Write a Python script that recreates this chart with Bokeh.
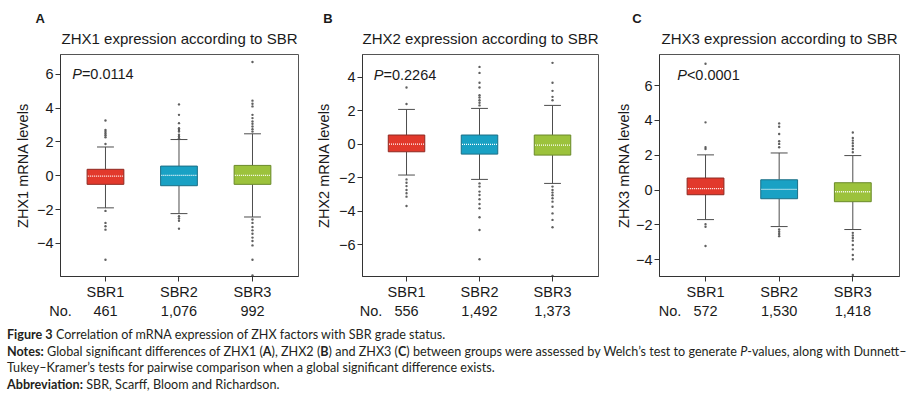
from bokeh.plotting import figure
from bokeh.models import Range1d, FixedTicker, Label, Div, Title, LinearAxis
from bokeh.layouts import column, row
from bokeh.embed import file_html
from bokeh.resources import INLINE

# ---------------- data ----------------
categories = ["SBR1", "SBR2", "SBR3"]
genes = ["ZHX1", "ZHX2", "ZHX3"]
panel_letters = ["A", "B", "C"]
p_values = ["=0.0114", "=0.2264", "<0.0001"]

zhx1_q1 = [-0.51, -0.59, -0.51]
zhx1_med = [-0.02, 0.02, 0.02]
zhx1_q3 = [0.38, 0.57, 0.61]
zhx1_lo = [-1.90, -2.24, -2.44]
zhx1_hi = [1.70, 2.14, 2.48]
zhx1_out = [
    [3.27, 2.71, 2.6, 2.5, 2.4, 2.28, 1.88, -2.08, -2.79, -2.99, -3.19, -4.97],
    [4.22, 3.6, 3.11, 2.81, 2.71, 2.61, 2.42, 2.32, 2.22, -2.4, -2.53, -2.67, -3.13],
    [6.73, 4.44, 4.26, 4.1, 3.6, 3.41, 3.21, 3.07, 2.91, 2.75, 2.61,
     -2.59, -2.79, -3.03, -3.23, -3.43, -3.66, -3.86, -4.12, -4.97, -5.9],
]
zhx1_n = [461, 1076, 992]

zhx2_q1 = [-0.44, -0.58, -0.64]
zhx2_med = [0.02, 0.0, -0.04]
zhx2_q3 = [0.56, 0.56, 0.56]
zhx2_lo = [-1.83, -2.09, -2.33]
zhx2_hi = [2.09, 2.15, 2.33]
zhx2_out = [
    [3.4, 2.41, -2.09, -2.29, -2.49, -2.72, -2.92, -3.12, -3.68],
    [4.63, 4.27, 3.68, 3.4, 2.94, 2.8, 2.64, 2.49, 2.33,
     -2.33, -2.52, -2.82, -3.02, -3.28, -3.56, -3.82, -4.35, -5.11, -6.86],
    [4.87, 3.68, 3.2, 2.84, 2.64,
     -2.52, -2.72, -2.88, -3.04, -3.22, -3.42, -3.72, -4.12, -4.51, -4.95, -7.85],
]
zhx2_n = [556, 1492, 1373]

zhx3_q1 = [-0.27, -0.50, -0.67]
zhx3_med = [0.08, 0.04, -0.10]
zhx3_q3 = [0.69, 0.59, 0.42]
zhx3_lo = [-1.70, -2.10, -2.27]
zhx3_hi = [2.02, 2.13, 1.98]
zhx3_out = [
    [7.26, 3.89, 2.46, 2.36, -1.96, -2.11, -3.22],
    [3.83, 3.64, 3.22, 2.8, 2.65, 2.46, -2.27, -2.4, -2.53, -2.65],
    [3.31, 2.99, 2.84, 2.69, 2.53, 2.36, 2.17,
     -2.46, -2.61, -2.76, -2.91, -3.16, -3.41, -3.73, -3.98, -4.88],
]
zhx3_n = [572, 1530, 1418]

y_ticks = [[-4, -2, 0, 2, 4, 6], [-6, -4, -2, 0, 2, 4], [-4, -2, 0, 2, 4, 6]]

# ---------------- style ----------------
FONT = "Liberation Sans"
TXT = "#1a1a1a"
fills = ["#e2392c", "#19a1c4", "#9cc23c"]
edges = ["#8e2a22", "#1b6f86", "#6a8a2a"]
whisker_color = "#4d4d4d"

layout = [
    dict(w=305, bl=60, br=7, xr=(0.388, 3.626), yr=(-5.96, 7.17),
         letter_off=-25, title_off=-3.5, ylab_standoff=3, no_x=0.3885, p=(11.7, 203)),
    dict(w=305, bl=57, br=12, xr=(0.397, 3.63), yr=(-7.89, 5.37),
         letter_off=-39.3, title_off=3, ylab_standoff=4, no_x=0.513, p=(11.3, 202)),
    dict(w=299, bl=49, br=10, xr=(0.375, 3.634), yr=(-4.97, 7.79),
         letter_off=-27.3, title_off=2, ylab_standoff=1, no_x=0.518, p=(17.7, 202)),
]
H = 322
BT = 54
BB = 46


def panel(i, q1, med, q3, lo, hi, outs, counts):
    L = layout[i]
    p = figure(width=L["w"], height=H, x_range=Range1d(*L["xr"]),
               y_range=Range1d(*L["yr"]), output_backend="svg",
               toolbar_location=None, min_border_left=L["bl"],
               min_border_right=L["br"], min_border_top=BT,
               min_border_bottom=BB)
    p.xgrid.visible = False
    p.ygrid.visible = False
    p.outline_line_color = "#555555"
    p.background_fill_color = "white"
    p.border_fill_color = "white"

    xs = [1, 2, 3]
    p.segment(x0=xs, y0=q3, x1=xs, y1=hi, line_color=whisker_color, line_width=1)
    p.segment(x0=xs, y0=q1, x1=xs, y1=lo, line_color=whisker_color, line_width=1)
    cw = 0.115
    p.segment(x0=[x - cw for x in xs], y0=hi, x1=[x + cw for x in xs], y1=hi,
              line_color=whisker_color, line_width=1)
    p.segment(x0=[x - cw for x in xs], y0=lo, x1=[x + cw for x in xs], y1=lo,
              line_color=whisker_color, line_width=1)
    p.vbar(x=xs, width=0.5, bottom=q1, top=q3, fill_color=fills,
           line_color=edges, line_width=1)
    p.segment(x0=[x - 0.24 for x in xs], y0=med, x1=[x + 0.24 for x in xs], y1=med,
              line_color="white", line_width=1.3, line_dash="1 1")
    ox, oy = [], []
    for k, vals in enumerate(outs):
        ox += [xs[k]] * len(vals)
        oy += vals
    p.scatter(x=ox, y=oy, size=2.4, marker="circle", fill_color="#444444",
              line_color=None, fill_alpha=0.85)

    # axes
    p.xaxis.ticker = FixedTicker(ticks=xs)
    p.xaxis.major_label_overrides = {x: c for x, c in zip(xs, categories)}
    p.yaxis.ticker = FixedTicker(ticks=y_ticks[i])
    p.yaxis.major_label_overrides = {t: (("\u2212" + str(-t)) if t < 0 else str(t))
                                     for t in y_ticks[i]}
    p.yaxis.axis_label = f"{genes[i]} mRNA levels"
    p.yaxis.axis_label_text_font = FONT
    p.yaxis.axis_label_text_font_size = "14.5px"
    p.yaxis.axis_label_text_font_style = "normal"
    p.yaxis.axis_label_text_color = TXT
    p.yaxis.axis_label_standoff = L["ylab_standoff"]
    for ax in (p.xaxis, p.yaxis):
        ax.axis_line_color = "#333333"
        ax.major_tick_line_color = "#333333"
        ax.major_tick_out = 5
        ax.major_tick_in = 0
        ax.minor_tick_line_color = None
        ax.major_label_text_font = FONT
        ax.major_label_text_font_size = "14.5px"
        ax.major_label_text_color = TXT
    p.xaxis.major_label_standoff = 2
    p.yaxis.major_label_standoff = 2

    # count row as a second bottom axis
    no_x = L["no_x"]
    cnt_axis = LinearAxis(ticker=FixedTicker(ticks=[no_x] + xs),
                          major_label_overrides={no_x: "No.",
                                                 **{x: f"{n:,}" for x, n in zip(xs, counts)}},
                          axis_line_color=None, major_tick_line_color=None,
                          minor_tick_line_color=None, major_tick_out=0, major_tick_in=0,
                          major_label_standoff=0, major_label_text_font=FONT,
                          major_label_text_font_size="14.5px", major_label_text_color=TXT)
    p.add_layout(cnt_axis, "below")

    # titles
    p.add_layout(Title(text=f"{genes[i]} expression according to SBR", align="center",
                       offset=L["title_off"], text_font=FONT, text_font_size="15px",
                       text_font_style="normal", text_color=TXT, standoff=16), "above")
    p.add_layout(Title(text=panel_letters[i], align="left", offset=L["letter_off"],
                       text_font=FONT, text_font_size="13px", text_font_style="bold",
                       text_color=TXT, standoff=-12), "above")

    # P value inside the frame
    px, py = L["p"]
    p.add_layout(Label(x=px, y=py, x_units="screen", y_units="screen", text="P",
                       text_font=FONT, text_font_size="14.5px", text_font_style="italic",
                       text_color=TXT, text_baseline="middle"))
    p.add_layout(Label(x=px + 9.7, y=py, x_units="screen", y_units="screen",
                       text=p_values[i], text_font=FONT, text_font_size="14.5px",
                       text_color=TXT, text_baseline="middle"))
    return p


pA = panel(0, zhx1_q1, zhx1_med, zhx1_q3, zhx1_lo, zhx1_hi, zhx1_out, zhx1_n)
pB = panel(1, zhx2_q1, zhx2_med, zhx2_q3, zhx2_lo, zhx2_hi, zhx2_out, zhx2_n)
pC = panel(2, zhx3_q1, zhx3_med, zhx3_q3, zhx3_lo, zhx3_hi, zhx3_out, zhx3_n)

caption_html = (
    "<b>Figure 3</b> Correlation of mRNA expression of ZHX factors with SBR grade status.<br>"
    "<b>Notes:</b> Global significant differences of ZHX1 (<b>A</b>), ZHX2 (<b>B</b>) and "
    "ZHX3 (<b>C</b>) between groups were assessed by Welch\u2019s test to generate "
    "<i>P</i>-values, along with Dunnett\u2013<br>"
    "Tukey\u2013Kramer\u2019s tests for pairwise comparison when a global significant "
    "difference exists.<br>"
    "<b>Abbreviation:</b> SBR, Scarff, Bloom and Richardson."
)
caption = Div(text=caption_html, width=909, height=75, margin=0,
              styles={"font-family": "Lato", "font-size": "12.6px",
                      "line-height": "16.6px", "color": "#231f20",
                      "white-space": "nowrap", "padding-top": "5px",
                      "padding-left": "7px"})

layout_all = column(row(pA, pB, pC, spacing=0), caption, spacing=0)
open("out.html", "w").write(file_html(layout_all, INLINE))
